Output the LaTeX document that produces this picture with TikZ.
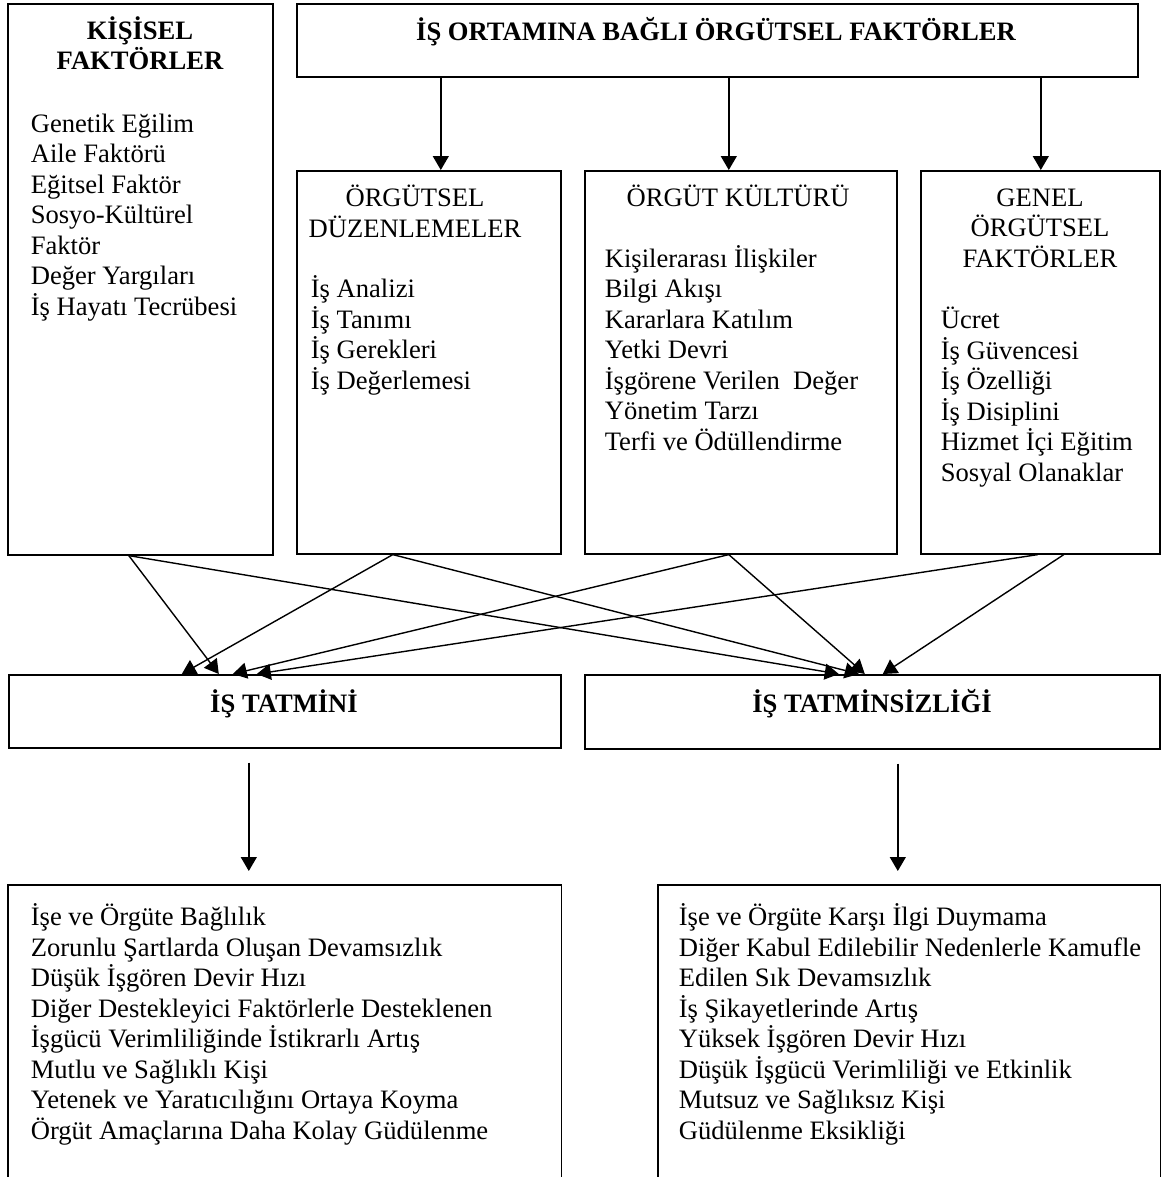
\documentclass[tikz,border=0pt]{standalone}
\usepackage{fontspec}
\setmainfont{Liberation Serif}
\usetikzlibrary{arrows.meta, positioning, calc}

\newcommand{\yazi}{\fontsize{13.3}{15.25}\selectfont}

\tikzset{
  kutu/.style={draw, rectangle, inner sep=0pt, anchor=north west},
  baslik/.style={font=\yazi\bfseries, align=center, anchor=base, inner sep=0pt},
  alt/.style={font=\yazi, align=center, anchor=base, inner sep=0pt},
  liste/.style={font=\yazi, align=left, anchor=base west, inner sep=0pt},
}

\begin{document}
\begin{tikzpicture}[x=0.5pt, y=-0.5pt, >={Triangle[length=7pt, width=8pt]},
    line width=0.8pt, font=\yazi]
  \useasboundingbox (0,0) rectangle (1161,1177);

  % Kişisel faktörler (çok satırlı düğümler son satırın tabanına oturur)
  \node[kutu, minimum width=132.5pt, minimum height=275.5pt] (kisisel) at (7,3) {};
  \node[baslik] (kisiselb) at (140,70) {KİŞİSEL\\FAKTÖRLER};
  \node[liste] (kisisell) at (30,315) {Genetik Eğilim\\Aile Faktörü\\Eğitsel Faktör\\Sosyo-Kültürel\\Faktör\\Değer Yargıları\\İş Hayatı Tecrübesi};

  % İş ortamı
  \node[kutu, minimum width=420.5pt, minimum height=36.5pt] (ust) at (296,3) {};
  \node[baslik] (ustb) at (716,41) {İŞ ORTAMINA BAĞLI ÖRGÜTSEL FAKTÖRLER};

  \node[kutu, minimum width=132pt, minimum height=191.5pt] (duzen) at (296,170) {};
  \node[alt] (duzenb) at (415,237) {ÖRGÜTSEL\\DÜZENLEMELER};
  \node[liste] (duzenl) at (310,389) {İş Analizi\\İş Tanımı\\İş Gerekleri\\İş Değerlemesi};

  \node[kutu, minimum width=156pt, minimum height=191.5pt] (kultur) at (584,170) {};
  \node[alt] (kulturb) at (738,206) {ÖRGÜT KÜLTÜRÜ};
  \node[liste] (kulturl) at (604,450) {Kişilerarası İlişkiler\\Bilgi Akışı\\Kararlara Katılım\\Yetki Devri\\İşgörene Verilen\ \ Değer\\Yönetim Tarzı\\Terfi ve Ödüllendirme};

  \node[kutu, minimum width=119.5pt, minimum height=191.5pt] (genel) at (920,170) {};
  \node[alt] (genelb) at (1040,267) {GENEL\\ÖRGÜTSEL\\FAKTÖRLER};
  \node[liste] (genell) at (940,481) {Ücret\\İş Güvencesi\\İş Özelliği\\İş Disiplini\\Hizmet İçi Eğitim\\Sosyal Olanaklar};

  \foreach \kutu/\dx in {duzen/12, kultur/-12, genel/0.5} {
    \path ($(\kutu.north)+(\dx,0)$) coordinate (uc);
    \draw[->, line width=0.7pt] (uc |- ust.south) -- (uc);
  }

  % Tatmin / tatminsizlik
  \node[kutu, minimum width=276pt, minimum height=36.5pt] (tatmin) at (8,674) {};
  \node[baslik] (tatminb) at (284,712) {İŞ TATMİNİ};
  \node[kutu, minimum width=287.5pt, minimum height=37pt] (tatminsiz) at (584,674) {};
  \node[baslik] (tatminsizb) at (872,712) {İŞ TATMİNSİZLİĞİ};

  \foreach \kaynak/\kx/\hedef/\hx in {kisisel/-11.5/tatmin/-66, kisisel/-11.5/tatminsiz/-33.5,
      duzen/-36/tatmin/-103, duzen/-36/tatminsiz/-13.5,
      kultur/-12/tatmin/-52, kultur/-12/tatminsiz/-7.5,
      genel/-2.5/tatmin/-28, genel/23.5/tatminsiz/10.5}
    \draw[->, line width=0.7pt] ($(\kaynak.south)+(\kx,0)$) -- ($(\hedef.north)+(\hx,0)$);

  % Sonuçlar (alt kenarı açık)
  \node[kutu, draw=none, minimum width=276pt, minimum height=146pt] (lres) at (8,885) {};
  \node[kutu, draw=none, minimum width=250.5pt, minimum height=146pt] (rres) at (658,885) {};
  \draw (lres.south west) |- (lres.north east) -- (lres.south east);
  \draw (rres.south west) |- (rres.north east) -- (rres.south east);
  \node[liste] (lresl) at (30,1139) {İşe ve Örgüte Bağlılık\\Zorunlu Şartlarda Oluşan Devamsızlık\\Düşük İşgören Devir Hızı\\Diğer Destekleyici Faktörlerle Desteklenen\\İşgücü Verimliliğinde İstikrarlı Artış\\Mutlu ve Sağlıklı Kişi\\Yetenek ve Yaratıcılığını Ortaya Koyma\\Örgüt Amaçlarına Daha Kolay Güdülenme};
  \node[liste] (rresl) at (678,1139) {İşe ve Örgüte Karşı İlgi Duymama\\Diğer Kabul Edilebilir Nedenlerle Kamufle\\Edilen Sık Devamsızlık\\İş Şikayetlerinde Artış\\Yüksek İşgören Devir Hızı\\Düşük İşgücü Verimliliği ve Etkinlik\\Mutsuz ve Sağlıksız Kişi\\Güdülenme Eksikliği};

  \path ($(tatmin.south)+(-36,0)$) coordinate (tc);
  \path ($(tatminsiz.south)+(25.5,0)$) coordinate (tsc);
  \draw[->, line width=0.7pt, shorten <=7pt, shorten >=7pt] (tc) -- (tc |- lres.north);
  \draw[->, line width=0.7pt, shorten <=7pt, shorten >=7pt] (tsc) -- (tsc |- rres.north);
\end{tikzpicture}
\end{document}
